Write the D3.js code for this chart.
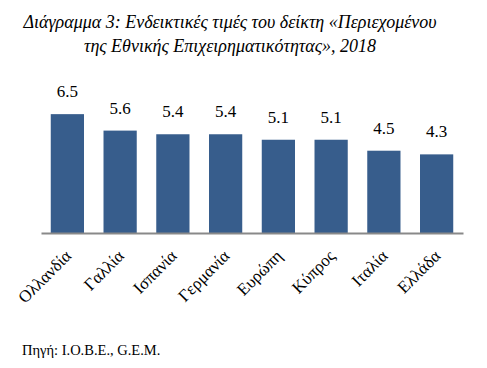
<!DOCTYPE html>
<html>
<head>
<meta charset="utf-8">
<script src="https://cdn.jsdelivr.net/npm/d3@7"></script>
</head>
<body style="margin:0">
<div id="vis"></div>
<script>
var categories = ["Ολλανδία", "Γαλλία", "Ισπανία", "Γερμανία", "Ευρώπη", "Κύπρος", "Ιταλία", "Ελλάδα"];
var values = [6.5, 5.6, 5.4, 5.4, 5.1, 5.1, 4.5, 4.3];
var titleLines = ["Διάγραμμα 3: Ενδεικτικές τιμές του δείκτη «Περιεχομένου", "της Εθνικής Επιχειρηματικότητας», 2018"];
var sourceText = "Πηγή: I.O.B.E., G.E.M.";

!function() {
	var font = "Liberation Serif";
	var colors = {
		bar: "#375d8c",
		axis: "#898989"
	};
	var plot = { left: 41, right: 463, top: 105, bottom: 233 };

	var svg = d3.select("#vis").append("svg")
		.attr("width", 487)
		.attr("height", 368)
		.style("display", "block");

	var x = d3.scaleBand()
		.domain(categories)
		.range([plot.left, plot.right])
		.paddingInner(0.37)
		.paddingOuter(0.185);

	var y = d3.scaleLinear()
		.domain([0, 7])
		.range([plot.bottom, plot.top]);

	//title, two centred italic lines
	svg.append("g").selectAll("text")
		.data(titleLines)
		.enter().append("text")
		.attr("x", 230)
		.attr("y", function(d, i) { return 28 + i * 24; })
		.attr("text-anchor", "middle")
		.attr("font-family", font)
		.attr("font-style", "italic")
		.attr("font-size", "18px")
		.text(function(d) { return d; });

	var data = categories.map(function(c, i) { return { name: c, value: values[i] }; });

	svg.append("g").selectAll("rect")
		.data(data)
		.enter().append("rect")
		.attr("x", function(d) { return x(d.name); })
		.attr("y", function(d) { return y(d.value); })
		.attr("width", x.bandwidth())
		.attr("height", function(d) { return y(0) - y(d.value); })
		.attr("fill", colors.bar);

	svg.append("g").selectAll("text")
		.data(data)
		.enter().append("text")
		.attr("x", function(d) { return x(d.name) + x.bandwidth() / 2; })
		.attr("y", function(d) { return y(d.value) - 17; })
		.attr("text-anchor", "middle")
		.attr("font-family", font)
		.attr("font-size", "17px")
		.text(function(d) { return d.value.toFixed(1); });

	//x axis: just the baseline and rotated labels
	var xAxis = d3.axisBottom(x).tickSize(0).tickPadding(0);
	var xAxisGroup = svg.append("g")
		.attr("transform", "translate(0," + plot.bottom + ")")
		.call(xAxis);
	xAxisGroup.attr("font-family", font).attr("font-size", "17px");
	xAxisGroup.select(".domain")
		.attr("stroke", colors.axis)
		.attr("stroke-width", 2);
	xAxisGroup.selectAll(".tick text")
		.attr("fill", "#000")
		.attr("text-anchor", "end")
		.attr("dy", null)
		.attr("y", null)
		.attr("transform", "translate(5,24) rotate(-45)");

	svg.append("text")
		.attr("x", 22)
		.attr("y", 355)
		.attr("font-family", font)
		.attr("font-size", "14.5px")
		.text(sourceText);
}();
</script>
</body>
</html>
